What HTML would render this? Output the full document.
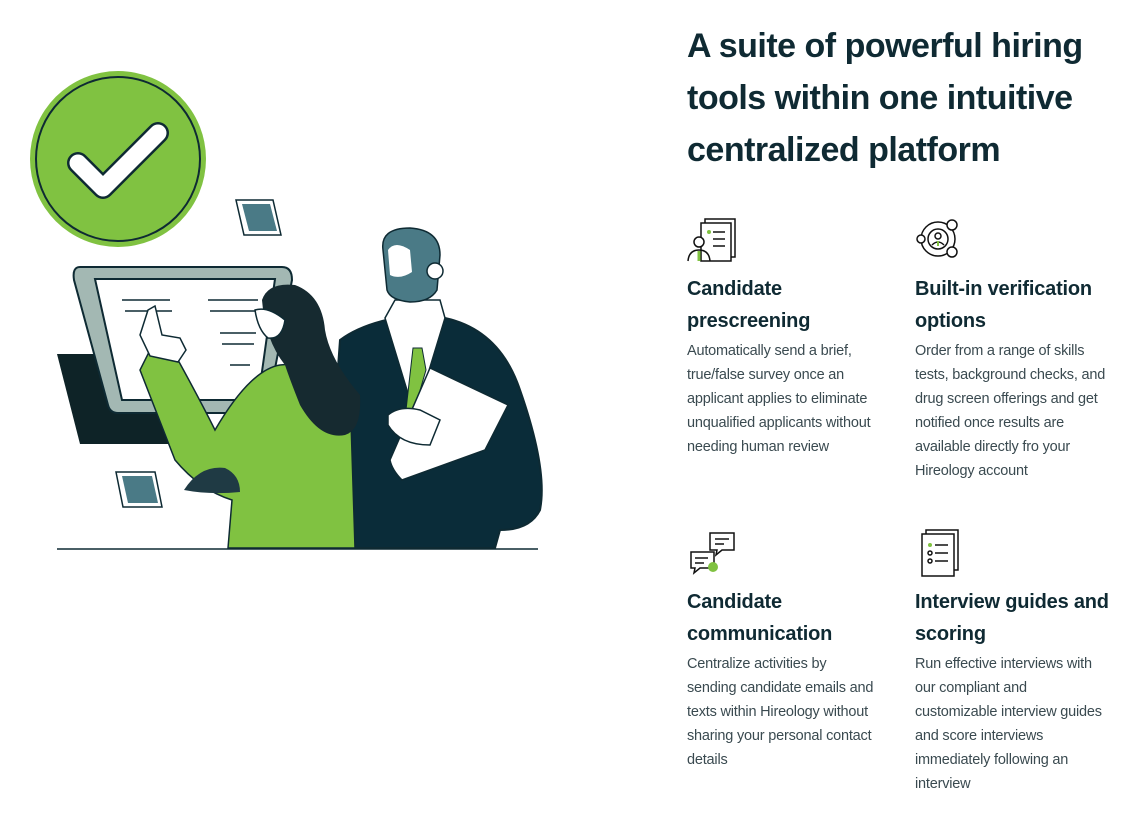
<!DOCTYPE html>
<html><head><meta charset="utf-8"><style>
body{margin:0;width:1146px;height:821px;background:#fff;font-family:"Liberation Sans",sans-serif;color:#0f2a33;position:relative;overflow:hidden}
h1{position:absolute;left:687px;top:20px;margin:0;font-size:34px;line-height:52px;font-weight:bold;width:440px;letter-spacing:-0.5px}
.f{position:absolute;width:220px;white-space:nowrap}
.f h3{margin:0;font-size:20px;line-height:32px;font-weight:bold;letter-spacing:-0.2px}
.f p{margin:2px 0 0;font-size:14.5px;line-height:24px;color:#3a4a50;letter-spacing:-0.2px}
.ic{position:absolute}
</style></head><body>
<svg width="560" height="570" style="position:absolute;left:0;top:0">
<circle cx="118" cy="159" r="88" fill="#80c241"/>
<circle cx="118" cy="159" r="82" fill="none" stroke="#0e2a33" stroke-width="2"/>
<path d="M78 163 L103 188 L158 133" fill="none" stroke="#0e2a33" stroke-width="22" stroke-linecap="round" stroke-linejoin="round"/>
<path d="M78 163 L103 188 L158 133" fill="none" stroke="#fff" stroke-width="17" stroke-linecap="round" stroke-linejoin="round"/>
<path d="M236 200 L273 200 L281 235 L244 235Z" fill="#fff" stroke="#0e2a33" stroke-width="1.5"/>
<path d="M242 204 L270 204 L277 231 L249 231Z" fill="#4a7a86"/>
<path d="M116 472 L155 472 L162 507 L123 507Z" fill="#fff" stroke="#0e2a33" stroke-width="1.5"/>
<path d="M122 476 L152 476 L158 503 L128 503Z" fill="#4a7a86"/>
<path d="M57 354 L150 354 L180 444 L80 444Z" fill="#0e2327"/>
<path d="M80 267 L282 267 Q292 267 292 280 L268 405 Q266 413 256 413 L118 413 Q110 413 108 405 L74 280 Q72 267 80 267Z" fill="#a3b8b3" stroke="#0e2a33" stroke-width="2"/>
<path d="M95 279 L275 279 L258 400 L122 400Z" fill="#fff" stroke="#0e2a33" stroke-width="2"/>
<g stroke="#0e2a33" stroke-width="1.5"><line x1="122" y1="300" x2="170" y2="300"/><line x1="125" y1="311" x2="172" y2="311"/><line x1="208" y1="300" x2="258" y2="300"/><line x1="210" y1="311" x2="258" y2="311"/><line x1="220" y1="333" x2="256" y2="333"/><line x1="222" y1="344" x2="254" y2="344"/><line x1="230" y1="365" x2="250" y2="365"/></g>
<path d="M325 548 L340 340 Q360 325 395 318 L445 318 Q500 330 520 390 Q548 470 540 510 Q530 530 500 530 L495 548Z" fill="#0a2c39" stroke="#0e2a33" stroke-width="2"/>
<path d="M385 318 L395 300 L440 300 L445 318 L420 400 L410 400Z" fill="#fff" stroke="#0e2a33" stroke-width="1.5"/>
<path d="M413 348 L422 348 L426 370 L412 418 L406 410Z" fill="#80c241" stroke="#0e2a33" stroke-width="1"/>
<path d="M430 368 L508 405 L485 450 L402 480 Q392 470 390 460Z" fill="#fff" stroke="#0e2a33" stroke-width="1.5"/>
<path d="M388 415 Q400 405 420 410 L440 420 L430 445 Q400 445 388 425Z" fill="#fff" stroke="#0e2a33" stroke-width="1.5"/>
<path d="M383 250 Q380 228 410 228 Q440 230 440 255 L437 290 Q430 302 410 302 Q390 300 387 290Z" fill="#4a7a86" stroke="#0e2a33" stroke-width="1.5"/>
<path d="M388 250 Q395 240 410 250 L412 272 Q400 280 390 275Z" fill="#fff"/>
<circle cx="435" cy="271" r="8" fill="#fff" stroke="#0e2a33" stroke-width="1.5"/>
<path d="M228 548 L232 500 Q200 490 175 460 L140 370 L150 350 L178 360 Q200 400 215 430 Q250 370 280 365 Q330 360 350 390 L355 548Z" fill="#80c241" stroke="#0e2a33" stroke-width="1.5"/>
<path d="M184 490 Q200 465 225 468 Q240 475 240 492 Q210 495 184 490Z" fill="#1f3a44"/>
<path d="M148 310 L155 306 L162 335 L180 338 L186 350 L178 362 L150 356 L140 335Z" fill="#fff" stroke="#0e2a33" stroke-width="1.5"/>
<path d="M262 300 Q268 282 295 285 Q322 295 325 330 Q330 360 360 395 Q362 430 345 435 Q320 440 300 405 Q290 380 285 365 Q265 340 262 300Z" fill="#162a30"/>
<path d="M255 310 Q268 306 285 320 Q282 340 268 338 Q258 330 255 310Z" fill="#fff" stroke="#0e2a33" stroke-width="1.5"/>
<line x1="57" y1="549" x2="538" y2="549" stroke="#0e2a33" stroke-width="1.5"/>
</svg>
<h1>A suite of powerful hiring tools within one intuitive centralized platform</h1>
<svg class="ic" style="left:687px;top:215px" width="52" height="48" fill="none" stroke="#111" stroke-width="1.5">
<rect x="18" y="4" width="30" height="38" fill="#fff"/><rect x="14" y="8" width="30" height="38" fill="#fff"/>
<line x1="26" y1="17" x2="38" y2="17"/><line x1="26" y1="24" x2="38" y2="24"/><line x1="26" y1="31" x2="38" y2="31"/>
<circle cx="22" cy="17" r="2" fill="#80c241" stroke="none"/>
<circle cx="12" cy="27" r="5" fill="#fff"/><path d="M1 46 Q2 35 12 35 Q22 35 23 46"/><path d="M12 36 L12 46" stroke="#80c241" stroke-width="3"/>
</svg>
<svg class="ic" style="left:915px;top:217px" width="46" height="44" fill="none" stroke="#111" stroke-width="1.5">
<circle cx="23" cy="22" r="17"/><circle cx="23" cy="22" r="10"/><circle cx="23" cy="19" r="3"/><path d="M17 28 Q23 22 29 28"/><path d="M23 24 L23 29" stroke="#80c241" stroke-width="2"/>
<circle cx="37" cy="8" r="5" fill="#fff"/><circle cx="6" cy="22" r="4" fill="#fff"/><circle cx="37" cy="35" r="5" fill="#fff"/>
</svg>
<svg class="ic" style="left:688px;top:530px" width="50" height="46" fill="none" stroke="#111" stroke-width="1.5">
<path d="M22 3 H46 V20 H34 L28 25 L29 20 H22Z" fill="#fff"/><line x1="27" y1="9" x2="41" y2="9"/><line x1="27" y1="14" x2="36" y2="14"/>
<path d="M3 22 H26 V38 H12 L6 43 L7 38 H3Z" fill="#fff"/><line x1="7" y1="28" x2="20" y2="28"/><line x1="7" y1="33" x2="16" y2="33"/>
<circle cx="25" cy="37" r="5" fill="#80c241" stroke="none"/>
</svg>
<svg class="ic" style="left:918px;top:528px" width="44" height="50" fill="none" stroke="#111" stroke-width="1.5">
<rect x="8" y="2" width="32" height="40" fill="#fff"/><rect x="4" y="6" width="32" height="42" fill="#fff"/>
<circle cx="12" cy="17" r="2" fill="#80c241" stroke="none"/><circle cx="12" cy="25" r="2"/><circle cx="12" cy="33" r="2"/>
<line x1="17" y1="17" x2="30" y2="17"/><line x1="17" y1="25" x2="30" y2="25"/><line x1="17" y1="33" x2="30" y2="33"/>
</svg>
<div class="f" style="left:687px;top:273px"><h3>Candidate<br>prescreening</h3><p>Automatically send a brief,<br>true/false survey once an<br>applicant applies to eliminate<br>unqualified applicants without<br>needing human review</p></div>
<div class="f" style="left:915px;top:273px"><h3>Built-in verification<br>options</h3><p>Order from a range of skills<br>tests, background checks, and<br>drug screen offerings and get<br>notified once results are<br>available directly fro your<br>Hireology account</p></div>
<div class="f" style="left:687px;top:586px"><h3>Candidate<br>communication</h3><p>Centralize activities by<br>sending candidate emails and<br>texts within Hireology without<br>sharing your personal contact<br>details</p></div>
<div class="f" style="left:915px;top:586px"><h3>Interview guides and<br>scoring</h3><p>Run effective interviews with<br>our compliant and<br>customizable interview guides<br>and score interviews<br>immediately following an<br>interview</p></div>
</body></html>
